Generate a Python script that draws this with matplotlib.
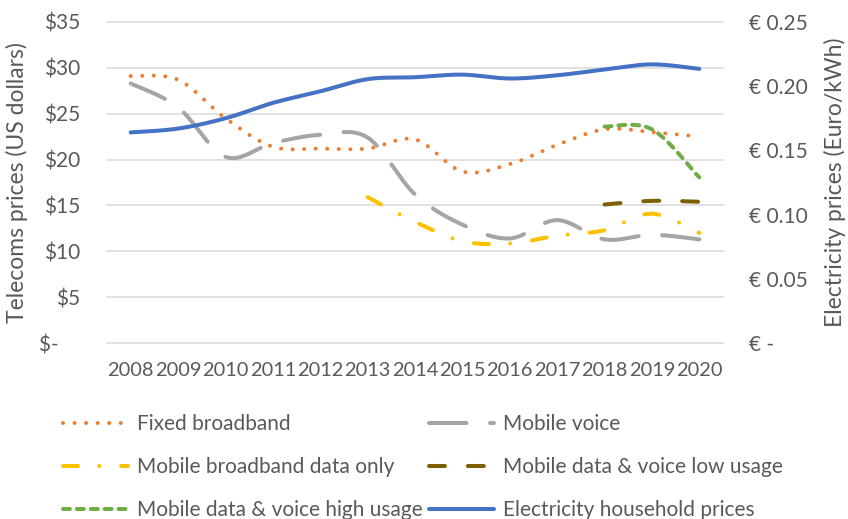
import numpy as np
import matplotlib.pyplot as plt

nan = np.nan
years = [2008, 2009, 2010, 2011, 2012, 2013, 2014, 2015, 2016, 2017, 2018, 2019, 2020]
fixed_broadband = [29.1, 28.7, 24.5, 21.4, 21.2, 21.2, 22.2, 18.7, 19.5, 21.6, 23.3, 23.0, 22.5]
mobile_voice = [28.3, 25.7, 20.3, 21.8, 22.7, 22.4, 16.2, 12.9, 11.4, 13.4, 11.3, 11.8, 11.3]
mobile_broadband = [nan, nan, nan, nan, nan, 15.9, 13.2, 11.1, 10.85, 11.7, 12.3, 14.1, 12.0]
data_voice_low = [nan, nan, nan, nan, nan, nan, nan, nan, nan, nan, 15.1, 15.5, 15.4]
data_voice_high = [nan, nan, nan, nan, nan, nan, nan, nan, nan, nan, 23.6, 23.3, 18.05]
electricity = [0.164, 0.167, 0.175, 0.187, 0.196, 0.2055, 0.207, 0.209, 0.206, 0.2085, 0.213, 0.217, 0.2135]

usd_ticks = [0, 5, 10, 15, 20, 25, 30, 35]
usd_labels = ['$-    ', '$5', '$10', '$15', '$20', '$25', '$30', '$35']
eur_ticks = [0, 0.05, 0.10, 0.15, 0.20, 0.25]
eur_labels = ['€ -', '€ 0.05', '€ 0.10', '€ 0.15', '€ 0.20', '€ 0.25']

plt.rcParams['font.family'] = ['Lato', 'DejaVu Sans']
plt.rcParams['lines.scale_dashes'] = False
TXT = '#595959'
GRID = '#D9D9D9'
FS = 15


def smooth(xs, ys, n=30):
    # excel style smoothed line (catmull-rom as bezier)
    xs = np.asarray(xs, float)
    ys = np.asarray(ys, float)
    ok = ~np.isnan(ys)
    x, y = xs[ok], ys[ok]
    px = np.concatenate([[x[0]], x, [x[-1]]])
    py = np.concatenate([[y[0]], y, [y[-1]]])
    outx, outy = [x[0]], [y[0]]
    t = np.linspace(0, 1, n)[1:]
    for i in range(1, len(px) - 2):
        p0 = np.array([px[i], py[i]])
        p3 = np.array([px[i + 1], py[i + 1]])
        c1 = p0 + (np.array([px[i + 1], py[i + 1]]) - np.array([px[i - 1], py[i - 1]])) / 6
        c2 = p3 - (np.array([px[i + 2], py[i + 2]]) - np.array([px[i], py[i]])) / 6
        for tt in t:
            pt = (1 - tt) ** 3 * p0 + 3 * (1 - tt) ** 2 * tt * c1 + 3 * (1 - tt) * tt ** 2 * c2 + tt ** 3 * p3
            outx.append(pt[0])
            outy.append(pt[1])
    return outx, outy


fig = plt.figure(figsize=(8.48, 5.19), dpi=100)
ax = fig.add_axes([107 / 848, 1 - 343 / 519, 616 / 848, 321 / 519])
ax2 = ax.twinx()

xpos = np.arange(len(years))
lw = 2.9

series = [
    (ax, fixed_broadband, 'Fixed broadband', '#ED7D31', (0, (0.01, 8.3))),
    (ax, mobile_voice, 'Mobile voice', '#A5A5A5', (0, (27, 17))),
    (ax, mobile_broadband, 'Mobile broadband data only', '#FFC000', (0, (10.8, 15.3, 0.01, 15.8))),
    (ax, data_voice_low, 'Mobile data & voice low usage', '#7F6000', (0, (11.5, 16.5))),
    (ax, data_voice_high, 'Mobile data & voice high usage', '#70AD47', (0, (5, 5))),
    (ax2, electricity, 'Electricity household prices', '#4472C4', '-'),
]
handles = []
for a, vals, name, color, ls in series:
    sx, sy = smooth(xpos, vals)
    h, = a.plot(sx, sy, color=color, lw=lw, linestyle=ls, label=name,
                dash_capstyle='round', solid_capstyle='round')
    handles.append(h)

ax.set_xlim(-0.5, len(years) - 0.5)
ax.set_ylim(0, 35)
ax2.set_ylim(0, 0.25)
ax.set_xticks(xpos, [str(y) for y in years])
ax.set_yticks(usd_ticks, usd_labels)
ax2.set_yticks(eur_ticks, eur_labels)

for a in (ax, ax2):
    for s in a.spines.values():
        s.set_visible(False)
    a.tick_params(length=0, labelsize=FS, labelcolor=TXT)
ax.tick_params(axis='x', pad=14, labelsize=14.4)
ax.tick_params(axis='y', pad=19)
ax2.tick_params(axis='y', pad=19)
for lab in ax2.get_yticklabels():
    lab.set_horizontalalignment('left')

ax.yaxis.grid(True, color=GRID, lw=1.1)
ax.set_axisbelow(True)
for gl in ax.yaxis.get_gridlines():
    gl.set_clip_on(False)

ax.set_ylabel('Telecoms prices (US dollars)', fontsize=16.5, color=TXT, labelpad=8)
ax2.set_ylabel('Electricity prices (Euro/kWh)', fontsize=16.5, color=TXT, labelpad=11)

# excel fills the legend row by row
order = [0, 2, 4, 1, 3, 5]
fig.legend(handles=[handles[i] for i in order], loc='upper left',
           bbox_to_anchor=(63 / 848, 1 - 414 / 519),
           ncol=2, frameon=False, fontsize=FS, labelcolor=TXT, handlelength=3.1,
           handletextpad=0.45, columnspacing=0.3, labelspacing=1.1, borderaxespad=0, borderpad=0)

fig.savefig('out.png', dpi=100)
